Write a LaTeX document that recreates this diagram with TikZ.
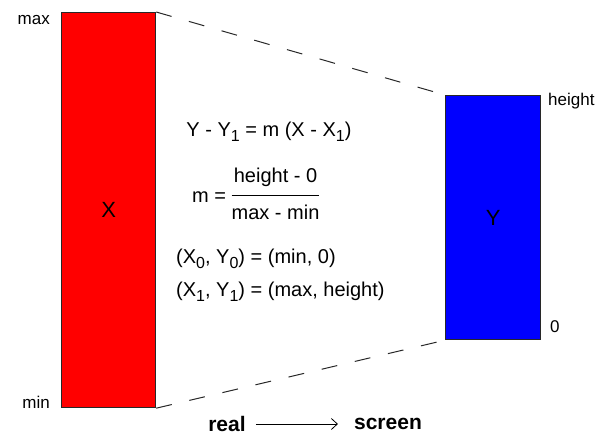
\documentclass[tikz,border=0pt]{standalone}
\usepackage{fontspec}
\setmainfont{Liberation Sans}
\usepackage{tikz}
\usetikzlibrary{
  arrows.meta,
  positioning
}
\definecolor{realred}{RGB}{255,0,0}
\definecolor{screenblue}{RGB}{0,0,255}
\definecolor{edgegray}{RGB}{40,40,40}
\newcommand{\lowidx}[1]{\raisebox{-0.45ex}{\fontsize{16}{17}\selectfont #1}}

\begin{document}
\begin{tikzpicture}[x=1pt,y=-1pt,
  every node/.style={font=\fontsize{17}{19}\selectfont,text=black,inner sep=0pt},
  bar/.style={draw=edgegray,line width=1.2pt,anchor=north west},
  guide/.style={edgegray,line width=1pt,dash pattern=on 16pt off 18pt},
  letter/.style={font=\fontsize{22}{24}\selectfont},
  formula/.style={font=\fontsize{20}{22}\selectfont},
  word/.style={font=\bfseries\fontsize{21}{23}\selectfont}
]
  \useasboundingbox (0,0) rectangle (606,436);

  % the two ranges
  \node[bar,fill=realred,minimum width=94pt,minimum height=395pt] (xbar) at (61,12) {};
  \node[bar,fill=screenblue,minimum width=95pt,minimum height=244pt] (ybar) at (445,95) {};
  \node[letter] (xlbl) at (xbar.center) {X};
  \node[letter] (ylbl) at (ybar.center) {Y};

  % end labels
  \node[anchor=east] (lmax) at (50,20) {max};
  \node[anchor=east] (lmin) at (50,402) {min};
  \node[anchor=west] (lheight) at (548,101) {height};
  \node[anchor=west] (lzero) at (550,327) {0};

  % mapping lines
  \draw[guide] (xbar.north east) -- (ybar.north west);
  \draw[guide] (xbar.south east) -- (ybar.south west);

  % formulas
  \node[formula] (eqline) at (269,132) {Y - Y\lowidx{1} = m (X - X\lowidx{1})};
  \node[formula,anchor=west] (eqslope) at (192,197) {m = \begin{tabular}[c]{@{}c@{}}height - 0\\[6pt]\hline\rule{0pt}{24pt}max - min\end{tabular}};
  \node[formula,anchor=west] (eqlow) at (176,259) {(X\lowidx{0}, Y\lowidx{0}) = (min, 0)};
  \node[formula,anchor=west] (eqhigh) at (176,292) {(X\lowidx{1}, Y\lowidx{1}) = (max, height)};

  % caption
  \node[word] (realword) at (227,424) {real};
  \node[word] (screenword) at (388,424) {screen};
  \draw[line width=0.8pt,-{Straight Barb[length=6pt,width=11pt]}]
    (realword.east) ++(10,0) coordinate (aa) -- ([xshift=-16pt]screenword.west |- aa);
\end{tikzpicture}
\end{document}
